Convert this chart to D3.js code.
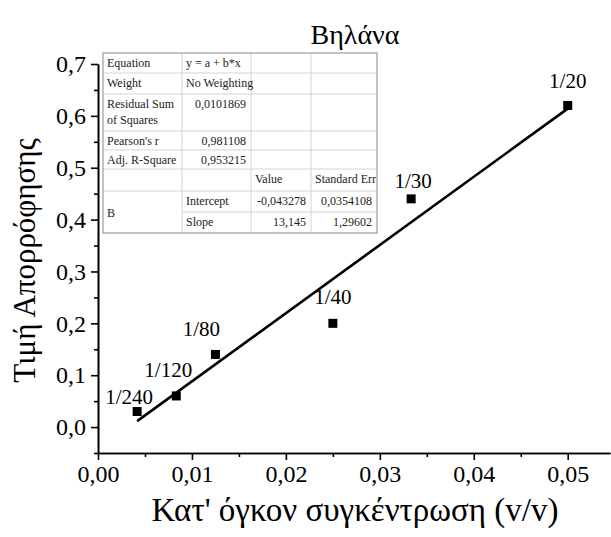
<!DOCTYPE html>
<html>
<head>
<meta charset="utf-8">
<script src="https://cdn.jsdelivr.net/npm/d3@7/dist/d3.min.js"></script>
</head>
<body style="margin:0">
<svg id="chart" width="611" height="537"></svg>
<script>
// Calibration points: dilution label, concentration (v/v), absorbance
const labels = ["1/240", "1/120", "1/80", "1/40", "1/30", "1/20"];
const concentration = [1/240, 1/120, 1/80, 1/40, 1/30, 1/20];
const absorbance = [0.03, 0.06, 0.14, 0.20, 0.44, 0.62];

// Linear fit y = a + b*x
const intercept = -0.043278;
const slope = 13.145;

const xTicks = [0, 0.01, 0.02, 0.03, 0.04, 0.05];
const xMinorTicks = [0.005, 0.015, 0.025, 0.035, 0.045];
const yTicks = [0, 0.1, 0.2, 0.3, 0.4, 0.5, 0.6, 0.7];
const yMinorTicks = [-0.05, 0.05, 0.15, 0.25, 0.35, 0.45, 0.55, 0.65];

// Fit report table rows
const tableRows = [
  ["Equation", "y = a + b*x", "", ""],
  ["Weight", "No Weighting", "", ""],
  ["Residual Sum\nof Squares", "0,0101869", "", ""],
  ["Pearson's r", "0,981108", "", ""],
  ["Adj. R-Square", "0,953215", "", ""],
  ["", "", "Value", "Standard Err"],
  ["B", "Intercept", "-0,043278", "0,0354108"],
  ["", "Slope", "13,145", "1,29602"]
];

const SERIF = "Tinos, 'Liberation Serif', Times, serif";
const svg = d3.select("#chart").attr("font-family", SERIF);
const plot = { left: 98, right: 610, top: 64, bottom: 453 };

const x = d3.scaleLinear().domain([0, 0.0545]).range([plot.left, plot.right]);
const y = d3.scaleLinear().domain([-0.05, 0.7]).range([plot.bottom, plot.top]);

const locale = d3.formatLocale({ decimal: ",", thousands: ".", grouping: [3], currency: ["", ""] });
const fx = locale.format(".2f");
const fy = locale.format(".1f");

function serifText(sel, size) {
  return sel.attr("font-family", SERIF).attr("font-size", size);
}

// Axes: major ticks with labels, minor ticks without
function styleAxis(g) {
  g.attr("font-family", SERIF).attr("font-size", 24);
  g.select(".domain").attr("stroke", "#000").attr("stroke-width", 1.6);
  g.selectAll(".tick line").attr("stroke", "#000").attr("stroke-width", 1.6);
  g.selectAll(".tick text").attr("fill", "#000");
}

svg.append("g")
  .attr("transform", `translate(0,${plot.bottom})`)
  .call(d3.axisBottom(x).tickValues(xTicks).tickFormat(fx).tickSize(7).tickPadding(5).tickSizeOuter(0))
  .call(styleAxis);
svg.append("g")
  .attr("transform", `translate(0,${plot.bottom})`)
  .call(d3.axisBottom(x).tickValues(xMinorTicks).tickFormat("").tickSize(4).tickSizeOuter(0))
  .call(styleAxis);

svg.append("g")
  .attr("transform", `translate(${plot.left},0)`)
  .call(d3.axisLeft(y).tickValues(yTicks).tickFormat(fy).tickSize(7).tickPadding(5).tickSizeOuter(0))
  .call(styleAxis);
svg.append("g")
  .attr("transform", `translate(${plot.left},0)`)
  .call(d3.axisLeft(y).tickValues(yMinorTicks).tickFormat("").tickSize(4).tickSizeOuter(0))
  .call(styleAxis);

// Fitted line across the data range
const xExtent = d3.extent(concentration);
svg.append("line")
  .attr("x1", x(xExtent[0])).attr("y1", y(intercept + slope * xExtent[0]))
  .attr("x2", x(xExtent[1])).attr("y2", y(intercept + slope * xExtent[1]))
  .attr("stroke", "#000").attr("stroke-width", 2.6);

// Square markers
const pts = labels.map((l, i) => ({ label: l, cx: concentration[i], cy: absorbance[i] }));
const m = 9;
svg.append("g").selectAll("rect").data(pts).join("rect")
  .attr("x", d => x(d.cx) - m / 2).attr("y", d => y(d.cy) - m / 2)
  .attr("width", m).attr("height", m).attr("fill", "#000");

// Point labels above each marker
const labelNudge = { "1/240": [-8, -8], "1/120": [-8, -19], "1/80": [-14, -18], "1/40": [0, -19], "1/30": [2, -11], "1/20": [0, -17] };
svg.append("g").selectAll("text").data(pts).join("text")
  .attr("x", d => x(d.cx) + labelNudge[d.label][0])
  .attr("y", d => y(d.cy) + labelNudge[d.label][1])
  .attr("text-anchor", "middle")
  .call(serifText, 21)
  .text(d => d.label);

// Titles
svg.append("text")
  .attr("x", 355).attr("y", 44)
  .attr("text-anchor", "middle").call(serifText, 28)
  .text("Βηλάνα");
svg.append("text")
  .attr("x", 355).attr("y", 521)
  .attr("text-anchor", "middle").call(serifText, 33)
  .text("Κατ' όγκον συγκέντρωση (v/v)");
svg.append("text")
  .attr("transform", `translate(35,${(plot.top + plot.bottom) / 2 + 2}) rotate(-90)`)
  .attr("text-anchor", "middle").call(serifText, 31)
  .text("Τιμή Απορρόφησης");

// Fit report table
const colX = [103, 182, 251, 311, 377];
const rowY = [53, 73, 94, 131, 150, 169, 191, 212, 233];
const tbl = svg.append("g").attr("fill", "#222");

tbl.append("rect").attr("x", colX[0]).attr("y", rowY[0])
  .attr("width", colX[4] - colX[0]).attr("height", rowY[8] - rowY[0])
  .attr("fill", "#fff").attr("stroke", "none");

// inner horizontal lines (the merged "B" cell skips the line between its rows)
rowY.slice(1, -1).forEach((ry, i) => {
  const x0 = (i + 1 === 7) ? colX[1] : colX[0];
  tbl.append("line").attr("x1", x0).attr("x2", colX[4]).attr("y1", ry).attr("y2", ry)
    .attr("stroke", "#d4d4d4").attr("stroke-width", 1);
});
colX.slice(1, -1).forEach(cx => {
  tbl.append("line").attr("x1", cx).attr("x2", cx).attr("y1", rowY[0]).attr("y2", rowY[8])
    .attr("stroke", "#d4d4d4").attr("stroke-width", 1);
});
tbl.append("rect").attr("x", colX[0]).attr("y", rowY[0])
  .attr("width", colX[4] - colX[0]).attr("height", rowY[8] - rowY[0])
  .attr("fill", "none").attr("stroke", "#8a8a8a").attr("stroke-width", 1);

tableRows.forEach((row, r) => {
  row.forEach((cell, c) => {
    if (!cell) return;
    const numeric = /^-?[0-9]/.test(cell);
    let ty = rowY[r] + 14;
    if (r === 6 && c === 0) ty = rowY[7] + 5; // merged "B" cell, vertically centred
    const tx = numeric ? colX[c + 1] - 5 : colX[c] + 4;
    const t = tbl.append("text")
      .attr("x", tx)
      .attr("y", ty)
      .attr("text-anchor", numeric ? "end" : "start")
      .call(serifText, 12);
    cell.split("\n").forEach((line, k) => {
      t.append("tspan").attr("x", tx).attr("dy", k === 0 ? 0 : 16).text(line);
    });
  });
});
</script>
</body>
</html>
